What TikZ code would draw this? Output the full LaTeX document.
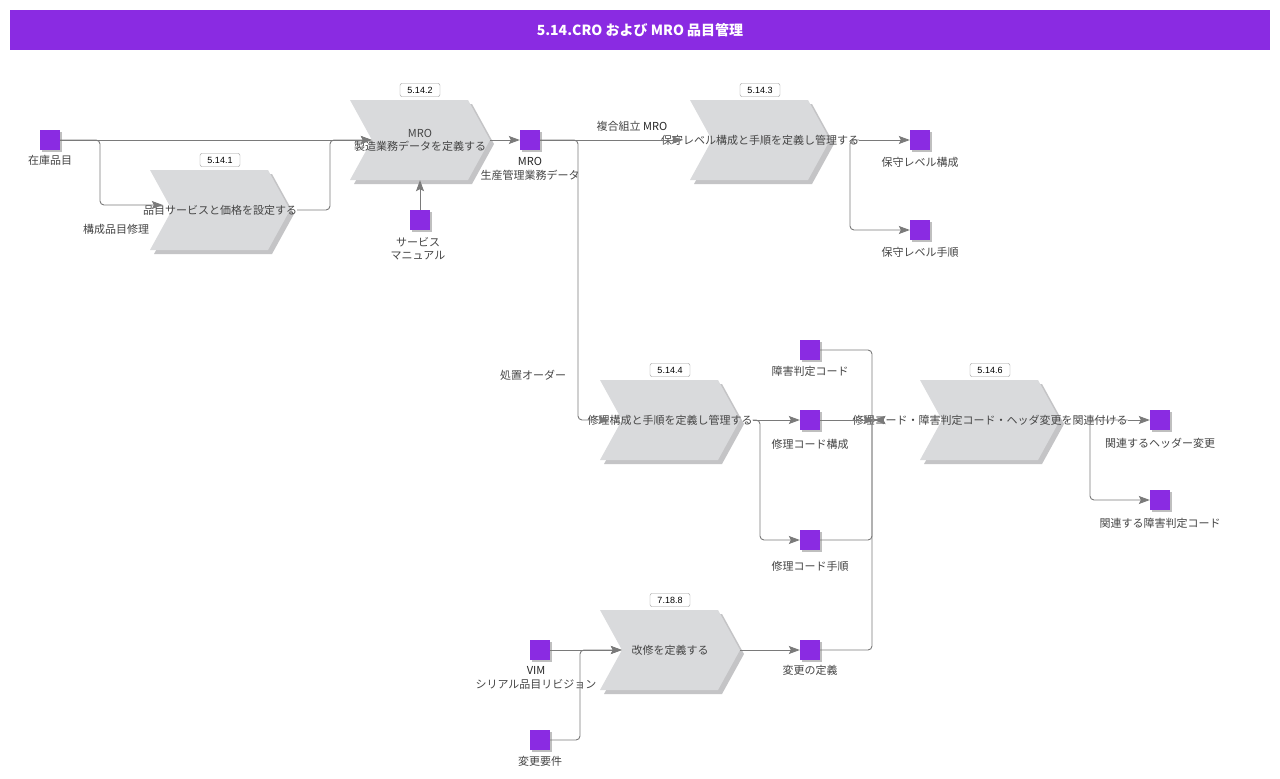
\documentclass[tikz,border=0pt]{standalone}
\usepackage{fontspec}
\setmainfont{Noto Sans CJK JP}
\newfontfamily\idfont{Liberation Sans}
\usetikzlibrary{arrows.meta,shadows}
\definecolor{purp}{HTML}{8A2BE2}
\definecolor{chev}{HTML}{D9DADC}
\definecolor{chevsh}{HTML}{C4C4C6}
\definecolor{linec}{HTML}{7A7A7A}
\definecolor{txt}{HTML}{454545}
\tikzset{
 conn/.style={draw=linec, line width=0.9pt, rounded corners=4pt, -{Stealth[length=11pt,width=8pt,inset=2pt]}, fill=none},
 dobj/.style={fill=purp, minimum size=20pt, inner sep=0pt, drop shadow={shadow xshift=2pt,shadow yshift=-2pt,fill=black,opacity=0.25}},
 lbl/.style={font=\fontsize{11}{13.5}\selectfont, text=txt, inner sep=0pt, align=center},
 chevtext/.style={font=\fontsize{11}{13}\selectfont, text=txt, align=center, minimum width=140pt, minimum height=80pt, inner sep=0pt},
 idbox/.style={draw=gray!80, fill=white, rounded corners=2pt, font=\idfont\fontsize{9}{10}\selectfont, minimum width=40pt, minimum height=13pt, inner sep=1pt},
}
\newcommand\mychev[5]{%
 \begin{scope}[shift={(#2,#3)}]
   \fill[chevsh] (-66,-36) -- (52,-36) -- (74,4) -- (52,44) -- (-66,44) -- (-44,4) -- cycle;
   \fill[chev] (-70,-40) -- (48,-40) -- (70,0) -- (48,40) -- (-70,40) -- (-48,0) -- cycle;
 \end{scope}
 \node[chevtext] (#1) at (#2,#3) {#4};
 \node[idbox] (#1id) at (#2,#3-50) {#5};
}
\begin{document}
\begin{tikzpicture}[x=1pt,y=-1pt]
\useasboundingbox (0,0) rectangle (1280,779);
\fill[white] (0,0) rectangle (1280,779);
% title
\node[fill=purp, minimum width=1260pt, minimum height=40pt, inner sep=0pt, text=white, font=\bfseries\fontsize{14}{16}\selectfont] (title) at (640,30) {5.14.CRO および MRO 品目管理};

% chevrons
\mychev{c1}{220}{210}{品目サービスと価格を設定する}{5.14.1}
\mychev{c2}{420}{140}{MRO\\製造業務データを定義する}{5.14.2}
\mychev{c3}{760}{140}{保守レベル構成と手順を定義し管理する}{5.14.3}
\mychev{c4}{670}{420}{修理構成と手順を定義し管理する}{5.14.4}
\mychev{c6}{990}{420}{修理コード・障害判定コード・ヘッダ変更を関連付ける}{5.14.6}
\mychev{c7}{670}{650}{改修を定義する}{7.18.8}

% data objects
\node[dobj] (inv) at (50,140) {};
\node[lbl] (invl) at (50,160) {在庫品目};
\node[dobj] (mro) at (530,140) {};
\node[lbl] (mrol) at (530,169) {{\color{black!85}MRO}\\生産管理業務データ};
\node[dobj] (svc) at (420,220) {};
\node[lbl] (svcl) at (418,248.5) {サービス\\マニュアル};
\node[dobj] (lcfg) at (920,140) {};
\node[lbl] (lcfgl) at (920,162) {保守レベル構成};
\node[dobj] (lprc) at (920,230) {};
\node[lbl] (lprcl) at (920,252) {保守レベル手順};
\node[dobj] (flt) at (810,350) {};
\node[lbl] (fltl) at (810,371) {障害判定コード};
\node[dobj] (rcfg) at (810,420) {};
\node[lbl] (rcfgl) at (810,444) {修理コード構成};
\node[dobj] (rprc) at (810,540) {};
\node[lbl] (rprcl) at (810,566) {修理コード手順};
\node[dobj] (hdr) at (1160,420) {};
\node[lbl] (hdrl) at (1160,443) {関連するヘッダー変更};
\node[dobj] (rflt) at (1160,500) {};
\node[lbl] (rfltl) at (1160,523) {関連する障害判定コード};
\node[dobj] (vim) at (540,650) {};
\node[lbl] (viml) at (536,678) {{\color{black!85}VIM}\\シリアル品目リビジョン};
\node[dobj] (creq) at (540,740) {};
\node[lbl] (creql) at (540,761) {変更要件};
\node[dobj] (cdef) at (810,650) {};
\node[lbl] (cdefl) at (810,670) {変更の定義};

% edge labels
\node[lbl] (e1) at (116,229) {構成品目修理};
\node[lbl] (e2) at (632,126) {複合組立 {\color{black!85}MRO}};
\node[lbl] (e3) at (533,375) {処置オーダー};

% connectors
\draw[conn] (inv.east) -- ([xshift=22pt]c2.west);
\draw[conn] (inv.east) -- (100,140) -- (100,205) -- ([xshift=20pt,yshift=5pt]c1.west);
\draw[conn] (c1.east) -- (330,210) -- (330,140) -- ([xshift=22pt]c2.west);
\draw[conn] (svc.north) -- (c2.south);
\draw[conn] (c2.east) -- (mro.west);
\draw[conn] (mro.east) -- ([xshift=22pt]c3.west);
\draw[conn] (mro.east) -- (578,140) -- (578,420) -- ([xshift=22pt]c4.west);
\draw[conn] (c3.east) -- (lcfg.west);
\draw[conn] (c3.east) -- (850,140) -- (850,230) -- (lprc.west);
\draw[conn] (c4.east) -- (rcfg.west);
\draw[conn] (c4.east) -- (760,420) -- (760,540) -- (rprc.west);
\draw[conn] (flt.east) -- (872,350) -- (872,420) -- ([xshift=22pt]c6.west);
\draw[conn] (rcfg.east) -- ([xshift=22pt]c6.west);
\draw[conn] (rprc.east) -- (872,540) -- (872,420) -- ([xshift=22pt]c6.west);
\draw[conn] (cdef.east) -- (872,650) -- (872,420) -- ([xshift=22pt]c6.west);
\draw[conn] (c6.east) -- (hdr.west);
\draw[conn] (c6.east) -- (1090,420) -- (1090,500) -- (rflt.west);
\draw[conn] (vim.east) -- ([xshift=22pt]c7.west);
\draw[conn] (creq.east) -- (580,740) -- (580,650) -- ([xshift=22pt]c7.west);
\draw[conn] (c7.east) -- (cdef.west);
\end{tikzpicture}
\end{document}
